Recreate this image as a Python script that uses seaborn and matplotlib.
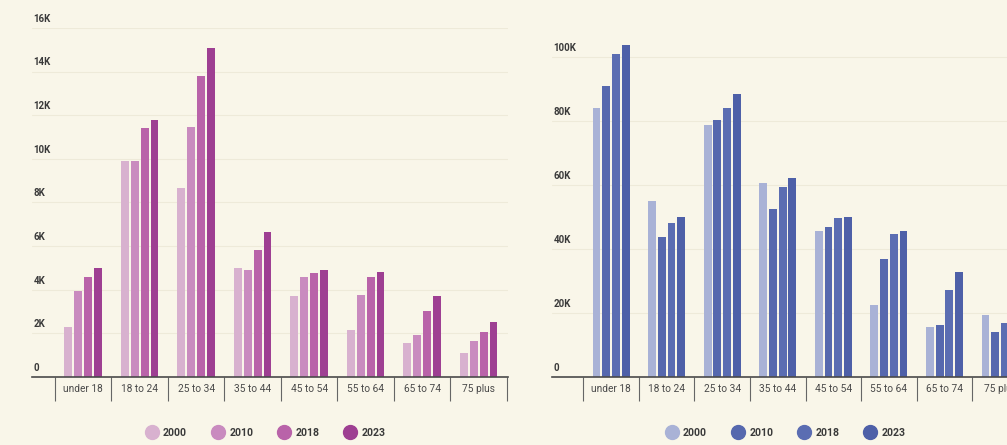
import pandas as pd
import matplotlib
matplotlib.use("Agg")
import matplotlib.pyplot as plt
from matplotlib.lines import Line2D
import seaborn as sns

# --- DATA ---
categories = ["under 18", "18 to 24", "25 to 34", "35 to 44",
              "45 to 54", "55 to 64", "65 to 74", "75 plus"]
years = ["2000", "2010", "2018", "2023"]

left_2000 = [2300, 9900, 8650, 5000, 3720, 2160, 1550, 1090]
left_2010 = [3960, 9880, 11480, 4900, 4570, 3760, 1930, 1670]
left_2018 = [4570, 11400, 13780, 5830, 4780, 4570, 3040, 2080]
left_2023 = [5000, 11760, 15080, 6670, 4900, 4830, 3720, 2540]

right_2000 = [84000, 55000, 78750, 60700, 45700, 22500, 15500, 19400]
right_2010 = [90900, 43800, 80300, 52400, 46800, 36800, 16250, 14200]
right_2018 = [100800, 48000, 84000, 59400, 49700, 44700, 27200, 16800]
right_2023 = [103750, 49900, 88300, 62200, 50000, 45600, 32900, 19000]

left_ticks = [0, 2000, 4000, 6000, 8000, 10000, 12000, 14000, 16000]
left_tick_labels = ["0", "2K", "4K", "6K", "8K", "10K", "12K", "14K", "16K"]
right_ticks = [0, 20000, 40000, 60000, 80000, 100000]
right_tick_labels = ["0", "20K", "40K", "60K", "80K", "100K"]

pink = ["#d8b1cf", "#c98bbf", "#b963a9", "#9e3f92"]
blue = ["#a9b2d6", "#5668ae", "#5b6db2", "#4e60a8"]

BG = "#f9f6e9"
W, H = 1007, 445


def long_frame(series):
    rows = []
    for year, vals in zip(years, series):
        for cat, v in zip(categories, vals):
            rows.append({"group": cat, "year": year, "value": v})
    return pd.DataFrame(rows)


def draw_panel(fig, rect, series, palette, ticks, tick_labels, ylim, xlim):
    ax = fig.add_axes(rect)
    ax.set_facecolor(BG)
    df = long_frame(series)
    sns.barplot(data=df, x="group", y="value", hue="year", palette=palette,
                order=categories, hue_order=years, width=0.7, gap=0.2,
                saturation=1, linewidth=0, legend=False, ax=ax)
    ax.set_xlim(*xlim)
    ax.set_ylim(*ylim)
    ax.set_xlabel("")
    ax.set_ylabel("")
    for s in ["top", "right", "left"]:
        ax.spines[s].set_visible(False)
    ax.spines["bottom"].set_color("#4a4a4a")
    ax.spines["bottom"].set_linewidth(1.2)
    ax.spines["bottom"].set_zorder(5)

    # gridlines + labels sitting above them
    ax.set_yticks(ticks)
    ax.set_yticklabels([])
    ax.tick_params(axis="y", length=0)
    for t, lab in zip(ticks, tick_labels):
        if t > 0:
            ax.axhline(t, color="#eeead9", linewidth=0.8, zorder=0)
        ax.annotate(lab, xy=(0, t), xycoords=("axes fraction", "data"),
                    xytext=(1, 3), textcoords="offset points",
                    ha="left", va="bottom", fontsize=7, fontweight="bold",
                    color="#3a3a3a")

    # category labels with separator ticks between groups
    ax.set_xticks(range(len(categories)))
    ax.set_xticklabels(categories, fontsize=7.3, color="#4a4a4a")
    ax.tick_params(axis="x", which="both", bottom=True)
    ax.tick_params(axis="x", which="major", length=0, pad=5)
    ax.set_xticks([i - 0.5 for i in range(len(categories) + 1)], minor=True)
    ax.tick_params(axis="x", which="minor", length=17, width=0.8,
                   color="#666666", direction="out")
    return ax


sns.set_theme(style="white")
plt.rcParams["font.family"] = ["Roboto", "DejaVu Sans"]

fig = plt.figure(figsize=(W / 100, H / 100), dpi=100)
fig.patch.set_facecolor(BG)

# left panel: axis 32..508 px, baseline at 377 px from top
l_xlim = (-0.907, 7.52)
draw_panel(fig, [32 / W, 68 / H, 476 / W, 349 / H], [left_2000, left_2010, left_2018, left_2023],
           pink, left_ticks, left_tick_labels, (0, 16000), l_xlim)

# right panel runs past the right edge of the picture
r_xlim = (-1.063, 7.52)
draw_panel(fig, [552 / W, 68 / H, 477 / W, 352 / H], [right_2000, right_2010, right_2018, right_2023],
           blue, right_ticks, right_tick_labels, (0, 110000), r_xlim)


def add_legend(colors, cx):
    handles = [Line2D([], [], marker="o", linestyle="", markersize=10,
                      markerfacecolor=c, markeredgecolor=c) for c in colors]
    leg = fig.legend(handles, years, loc="center", ncol=4,
                     bbox_to_anchor=(cx / W, 1 - 433 / H), frameon=False,
                     handletextpad=0.6, columnspacing=2.4, handlelength=1.0,
                     prop={"size": 7.6, "weight": "bold"})
    for t in leg.get_texts():
        t.set_color("#3a3a3a")


add_legend(pink, 266)
add_legend(blue, 786)

fig.savefig("out.png", dpi=100, facecolor=BG)
